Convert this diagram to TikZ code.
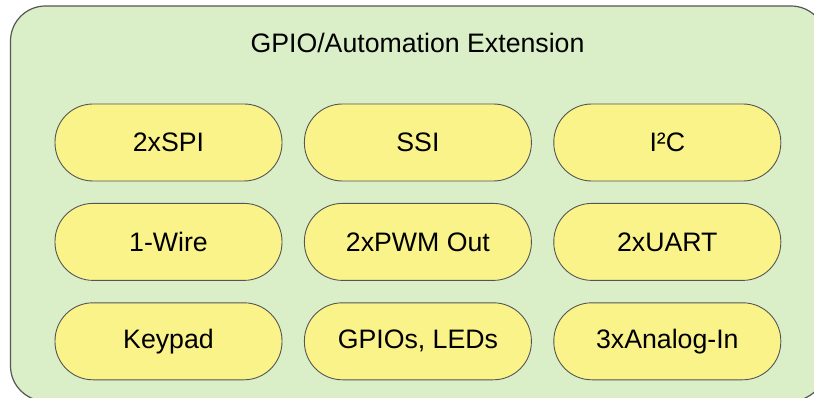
\documentclass[tikz,border=0pt]{standalone}
\usepackage{fontspec}
\setmainfont{Liberation Sans}
\definecolor{ExtGreen}{RGB}{218, 239, 200}
\definecolor{PillYellow}{RGB}{250, 243, 138}
\definecolor{EdgeGray}{RGB}{85, 85, 85}
\usetikzlibrary{positioning}

\begin{document}
\begin{tikzpicture}[
    x=1pt, y=1pt,
    node distance=21.5pt and 21.5pt,
    every node/.style={font=\fontsize{26.7}{32}\selectfont},
    extbox/.style={draw=EdgeGray, line width=1.2pt, fill=ExtGreen, rounded corners=35pt},
    pill/.style={draw=EdgeGray, line width=0.9pt, fill=PillYellow, rounded corners=38pt,
                 minimum width=227pt, minimum height=77pt, inner sep=0pt}]

\clip (0,0) rectangle (814,-398);
\draw[extbox] (10.5,-6) rectangle (826,-401);
\node (title) at (417.5,-43) {GPIO/Automation Extension};

\node[pill] (spi) at (168.5,-142.5) {2xSPI};
\node[pill, right=of spi] (ssi) {SSI};
\node[pill, right=of ssi] (iic) {I²C};
\node[pill, below=of spi] (wire) {1-Wire};
\node[pill, right=of wire] (pwm) {2xPWM Out};
\node[pill, right=of pwm] (uart) {2xUART};
\node[pill, below=of wire] (keypad) {Keypad};
\node[pill, right=of keypad] (gpio) {GPIOs, LEDs};
\node[pill, right=of gpio] (adc) {3xAnalog-In};
\end{tikzpicture}
\end{document}
